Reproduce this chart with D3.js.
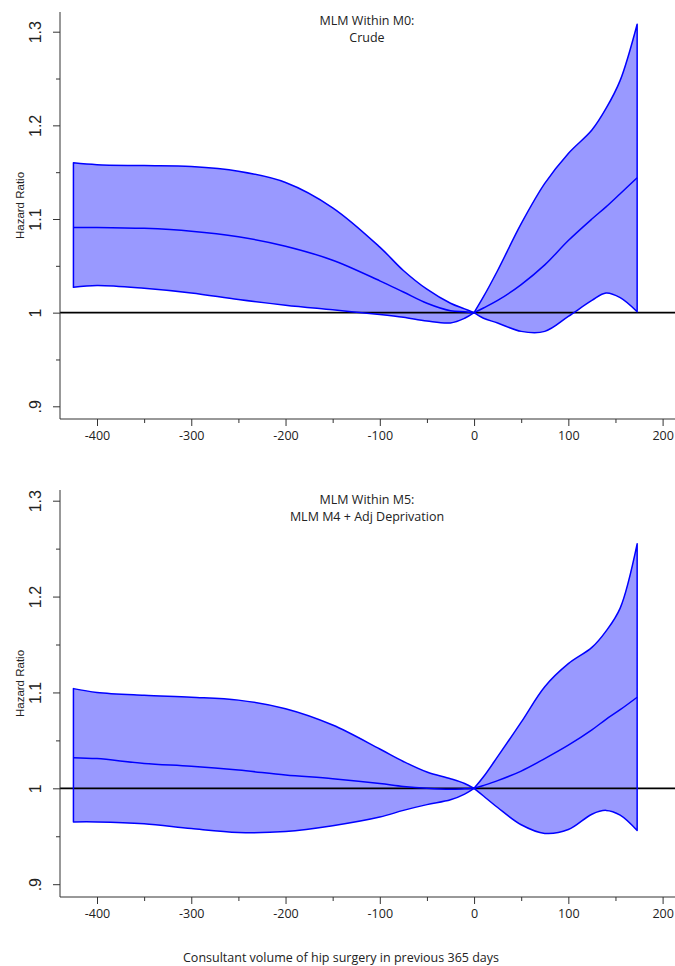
<!DOCTYPE html>
<html><head><meta charset="utf-8">
<script src="https://cdn.jsdelivr.net/npm/d3@7"></script>
<style>html,body{margin:0;padding:0;background:#fff;}svg{display:block;}</style>
</head><body>
<svg id="chart" width="675" height="966"></svg>
<script>
// ---- data ----
const xValues = [-425,-400,-350,-300,-250,-200,-150,-100,-75,-50,-25,-10,0,10,25,50,75,100,125,140,155,173];

const m0Upper = [1.160,1.158,1.157,1.156,1.151,1.139,1.112,1.070,1.045,1.025,1.010,1.004,1.000,1.017,1.045,1.095,1.138,1.170,1.195,1.218,1.248,1.308];
const m0Mid   = [1.091,1.091,1.090,1.087,1.081,1.071,1.056,1.034,1.022,1.010,1.002,1.001,1.000,1.005,1.013,1.030,1.051,1.077,1.100,1.113,1.127,1.144];
const m0Lower = [1.027,1.029,1.026,1.021,1.014,1.008,1.003,0.998,0.995,0.991,0.989,0.994,1.000,0.994,0.989,0.980,0.980,0.996,1.013,1.021,1.016,1.001];

const m5Upper = [1.104,1.100,1.097,1.095,1.092,1.083,1.066,1.041,1.028,1.017,1.010,1.005,1.000,1.012,1.033,1.069,1.106,1.130,1.147,1.164,1.188,1.255];
const m5Mid   = [1.032,1.031,1.026,1.023,1.019,1.014,1.010,1.005,1.002,1.000,0.999,0.9995,1.000,1.003,1.008,1.018,1.031,1.045,1.061,1.072,1.082,1.095];
const m5Lower = [0.965,0.965,0.963,0.958,0.954,0.955,0.961,0.970,0.977,0.983,0.988,0.994,1.000,0.992,0.980,0.962,0.953,0.957,0.973,0.977,0.972,0.956];

const xTicks = [-400,-300,-200,-100,0,100,200];
const xMinorTicks = [-350,-250,-150,-50,50,150];
const yTicks = [0.9,1.0,1.1,1.2,1.3];
const yTickLabels = [".9","1","1.1","1.2","1.3"];
const yMinorTicks = [0.95,1.05,1.15,1.25];
const titlesM0 = ["MLM Within M0:","Crude"];
const titlesM5 = ["MLM Within M5:","MLM M4 + Adj Deprivation"];
const yLabel = "Hazard Ratio";
const xLabel = "Consultant volume of hip surgery in previous 365 days";

// ---- drawing ----
const svg = d3.select("#chart");
const axisX0 = 60, rightEdge = 675;
const x = d3.scaleLinear().domain([-400,200]).range([97,662.6]);

const panels = [
  {upper:m0Upper, mid:m0Mid, lower:m0Lower, titles:titlesM0, axTop:12, axBottom:419, y09:406.3, y13:31.7, titleY:25},
  {upper:m5Upper, mid:m5Mid, lower:m5Lower, titles:titlesM5, axTop:490, axBottom:897, y09:884.2, y13:500.7, titleY:504}
];

const sansUI = "'Open Sans', 'Noto Sans', sans-serif";
const sansArial = "'Liberation Sans', Arial, sans-serif";
const curve = d3.curveCatmullRom.alpha(0.5);

panels.forEach(p => {
  const y = d3.scaleLinear().domain([0.9,1.3]).range([p.y09, p.y13]);
  const g = svg.append("g");
  const rows = xValues.map((xv,i) => ({x:xv, u:p.upper[i], m:p.mid[i], l:p.lower[i]}));
  const segs = [rows.filter(d => d.x <= 0), rows.filter(d => d.x >= 0)];

  const area = d3.area().x(d => x(d.x)).y0(d => y(d.l)).y1(d => y(d.u)).curve(curve);
  const line = d3.line().x(d => x(d.x)).y(d => y(d.m)).curve(curve);

  segs.forEach(s => g.append("path").attr("d", area(s)).attr("fill", "#9999ff").attr("stroke", "none"));

  // reference line at HR = 1
  g.append("line").attr("x1", axisX0).attr("x2", rightEdge)
    .attr("y1", y(1)).attr("y2", y(1)).attr("stroke", "#000").attr("stroke-width", 1.6);

  segs.forEach(s => {
    g.append("path").attr("d", area(s)).attr("fill", "none")
      .attr("stroke", "#0000ff").attr("stroke-width", 1.5).attr("stroke-linejoin", "round");
    g.append("path").attr("d", line(s)).attr("fill", "none")
      .attr("stroke", "#0000ff").attr("stroke-width", 1.5);
  });

  // y axis
  const yAxis = d3.axisLeft(y).tickValues(yTicks).tickSize(7)
    .tickFormat((d,i) => yTickLabels[i]);
  const ya = g.append("g").attr("transform", `translate(${axisX0},0)`).call(yAxis);
  ya.select(".domain").remove();
  ya.selectAll(".tick line").attr("stroke", "#333");
  ya.selectAll(".tick text")
    .attr("x", null).attr("dy", null)
    .attr("text-anchor", "middle")
    .attr("transform", "translate(-19,0) rotate(-90)")
    .attr("font-family", sansArial).attr("font-size", 16).attr("fill", "#222");
  const yMinor = d3.axisLeft(y).tickValues(yMinorTicks).tickSize(4).tickFormat("");
  const ym = g.append("g").attr("transform", `translate(${axisX0},0)`).call(yMinor);
  ym.select(".domain").remove();
  ym.selectAll(".tick line").attr("stroke", "#333");
  g.append("line").attr("x1", axisX0).attr("x2", axisX0).attr("y1", p.axTop).attr("y2", p.axBottom)
    .attr("stroke", "#333").attr("stroke-width", 1);

  // x axis
  const xAxis = d3.axisBottom(x).tickValues(xTicks).tickSize(7).tickFormat(d => String(d));
  const xa = g.append("g").attr("transform", `translate(0,${p.axBottom})`).call(xAxis);
  xa.select(".domain").remove();
  xa.selectAll(".tick line").attr("stroke", "#333");
  xa.selectAll(".tick text").attr("dy", null).attr("y", 20.5)
    .attr("font-family", sansUI).attr("font-size", 12.5).attr("fill", "#222");
  const xMinor = d3.axisBottom(x).tickValues(xMinorTicks).tickSize(4).tickFormat("");
  const xm = g.append("g").attr("transform", `translate(0,${p.axBottom})`).call(xMinor);
  xm.select(".domain").remove();
  xm.selectAll(".tick line").attr("stroke", "#333");
  g.append("line").attr("x1", axisX0).attr("x2", rightEdge).attr("y1", p.axBottom).attr("y2", p.axBottom)
    .attr("stroke", "#333").attr("stroke-width", 1);

  // y label
  g.append("text").attr("transform", `translate(23.5,${(p.axTop + p.axBottom)/2 - 10}) rotate(-90)`)
    .attr("text-anchor", "middle").attr("font-family", sansArial).attr("font-size", 11.5)
    .attr("fill", "#222").text(yLabel);

  // titles
  p.titles.forEach((t,i) => {
    g.append("text").attr("x", 367).attr("y", p.titleY + i*17)
      .attr("text-anchor", "middle").attr("font-family", sansUI).attr("font-size", 12.5)
      .attr("fill", "#222").text(t);
  });
});

svg.append("text").attr("x", 341).attr("y", 962).attr("text-anchor", "middle")
  .attr("font-family", sansUI).attr("font-size", 12.5).attr("fill", "#222").text(xLabel);
</script>
</body></html>
